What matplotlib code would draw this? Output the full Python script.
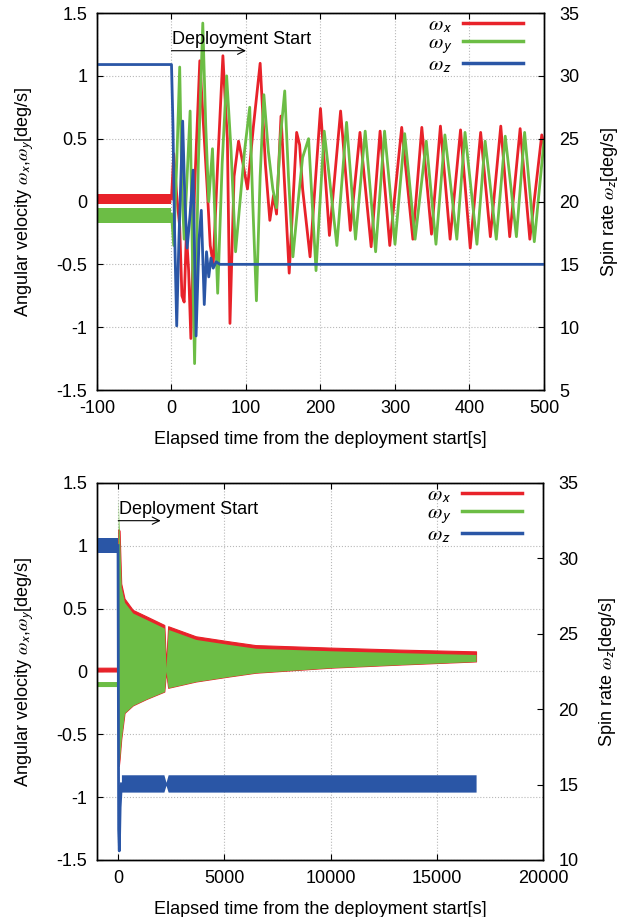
import matplotlib
matplotlib.use('Agg')
import matplotlib.pyplot as plt
from matplotlib.lines import Line2D
from matplotlib.ticker import FormatStrFormatter

plt.rcParams['font.family'] = ['Liberation Sans', 'DejaVu Sans']
plt.rcParams['font.size'] = 13
plt.rcParams['axes.unicode_minus'] = False
plt.rcParams['mathtext.fontset'] = 'stix'

RED = '#e8222a'
GREEN = '#6cbd45'
BLUE = '#2a56a6'

# ---------------- top panel data (time [s], value) ----------------
pre_t_top = [-100, 0]
pre_red_lo = [-0.02, -0.02]
pre_red_hi = [0.06, 0.06]
pre_green_lo = [-0.17, -0.17]
pre_green_hi = [-0.05, -0.05]

t_wx = [0, 3, 7, 11, 14, 17, 20, 23, 26, 31, 38, 43, 48, 52, 56, 62, 69, 73, 75, 78.5,
        84, 90, 96, 102, 110, 119, 126, 132, 137, 141, 147, 158, 168, 172, 176, 186,
        200, 212, 227, 240, 253, 268, 280, 293, 309, 324, 336, 349, 361, 374, 388,
        401, 415, 428, 442, 454, 468, 481, 497, 500]
wx = [0.02, 0.38, 0.05, -0.2, -0.75, -0.8, -0.25, -0.55, -1.09, 0.1, 1.12, 0.6, 0.1, -0.35,
      -0.5, 0.3, 1.16, 0.7, 0.5, -0.97, 0.2, 0.48, 0.3, 0.1, 0.6, 1.1, 0.3, -0.15, 0.05,
      -0.1, 0.68, -0.57, 0.55, 0.45, 0.1, -0.44, 0.74, -0.27, 0.72, -0.23, 0.55, -0.36,
      0.56, -0.35, 0.59, -0.3, 0.59, -0.26, 0.6, -0.3, 0.57, -0.37, 0.55, -0.28, 0.6,
      -0.28, 0.58, -0.3, 0.53, 0.45]

t_wy = [0, 3, 7, 11, 14, 17, 21, 25, 28, 31, 36, 42, 46, 50, 55, 62, 68, 74, 80, 86,
        92, 98, 105, 109, 114, 119, 124, 130, 136, 141, 146, 152, 157, 163, 170, 176,
        184, 194, 205, 222, 235, 247, 260, 274, 286, 300, 313, 327, 342, 355, 367, 383,
        394, 410, 421, 436, 448, 463, 474, 487, 500]
wy = [-0.1, -0.35, 0.3, 1.07, 0.1, -0.3, 0.2, 0.72, -0.4, -1.29, 0.3, 1.42, 0.6, 0.0,
      0.42, -0.73, 0.3, 1.0, 0.4, -0.4, 0.0, 0.4, 0.75, 0.0, -0.79, 0.2, 0.85, 0.4, 0.1,
      -0.05, 0.5, 0.88, 0.2, -0.44, 0.0, 0.35, 0.5, -0.55, 0.56, -0.35, 0.63, -0.3, 0.56,
      -0.4, 0.56, -0.34, 0.54, -0.3, 0.48, -0.34, 0.53, -0.3, 0.55, -0.34, 0.48, -0.3,
      0.52, -0.28, 0.55, -0.32, 0.48]

t_wz = [-100, 0, 2, 4, 7, 10, 15, 18, 21, 25, 29, 33, 37, 40, 44, 47, 50, 53, 56, 60, 65, 500]
wz = [30.9, 30.9, 26, 18, 10.1, 17, 26.4, 20, 16.3, 19, 22.5, 9.3, 17, 19.3, 11.8, 16,
      14, 15.5, 14.7, 15.2, 15.0, 15.0]

# ---------------- bottom panel data ----------------
t_b = [-1000, -20, 0, 30, 63, 140, 297, 687, 1311, 2170, 2250, 2350, 3653, 5214, 6463,
       9977, 13255, 16847]
red_hi = [0.03, 0.03, 1.13, 1.13, 1.12, 0.70, 0.58, 0.49, 0.44, 0.37, 0.05, 0.36, 0.28,
          0.24, 0.21, 0.19, 0.174, 0.16]
red_lo = [0.0, 0.0, -0.75, -0.75, -0.7, -0.54, -0.33, -0.27, -0.22, -0.16, 0.0, -0.13,
          -0.08, -0.04, -0.01, 0.03, 0.055, 0.08]
green_hi = [-0.08, -0.08, 1.38, 1.2, 1.08, 0.67, 0.55, 0.465, 0.415, 0.345, 0.03, 0.335,
            0.255, 0.215, 0.185, 0.165, 0.15, 0.135]
green_lo = [-0.12, -0.12, -0.75, -0.75, -0.7, -0.54, -0.33, -0.27, -0.22, -0.16, 0.0,
            -0.13, -0.08, -0.04, -0.01, 0.03, 0.055, 0.08]

tz_pre = [-1000, -10]
z_pre_lo = [30.35, 30.35]
z_pre_hi = [31.35, 31.35]
tz_tr = [-10, 0, 20, 50, 90, 150]
z_tr = [30.85, 25, 12, 10.6, 13.5, 15.05]
tz_post = [150, 2150, 2250, 2350, 16850]
z_post_lo = [14.5, 14.5, 14.95, 14.5, 14.5]
z_post_hi = [15.65, 15.65, 15.15, 15.65, 15.65]

# ticks / labels
top_xticks = [-100, 0, 100, 200, 300, 400, 500]
bot_xticks = [0, 5000, 10000, 15000, 20000]
left_yticks = [-1.5, -1, -0.5, 0, 0.5, 1, 1.5]
top_rticks = [5, 10, 15, 20, 25, 30, 35]
bot_rticks = [10, 15, 20, 25, 30, 35]

xlabel = 'Elapsed time from the deployment start[s]'
ylabel_l = r'Angular velocity $\omega_{\mathsf{x}}$,$\omega_{\mathsf{y}}$[deg/s]'
ylabel_r = r'Spin rate $\omega_{\mathsf{z}}$[deg/s]'
leg_labels = [r'$\omega_{\mathsf{x}}$', r'$\omega_{\mathsf{y}}$', r'$\omega_{\mathsf{z}}$']

fig = plt.figure(figsize=(6.27, 9.17), dpi=100)
ax1 = fig.add_axes([0.1547, 0.5747, 0.7129, 0.4111])
ax1r = ax1.twinx()
ax2 = fig.add_axes([0.1547, 0.0622, 0.7113, 0.4111])
ax2r = ax2.twinx()


def style(ax, axr, xlim, xticks, rlim, rticks):
    ax.set_xlim(*xlim)
    ax.set_xticks(xticks)
    ax.set_ylim(-1.5, 1.5)
    ax.set_yticks(left_yticks)
    axr.set_ylim(*rlim)
    axr.set_yticks(rticks)
    ax.yaxis.set_major_formatter(FormatStrFormatter('%g'))
    ax.xaxis.set_major_formatter(FormatStrFormatter('%g'))
    axr.yaxis.set_major_formatter(FormatStrFormatter('%g'))
    ax.tick_params(axis='x', direction='in', top=True, length=4, width=0.8, pad=7)
    ax.tick_params(axis='y', direction='in', length=4, width=0.8, pad=7)
    axr.tick_params(axis='y', direction='in', length=4, width=0.8, pad=11)
    ax.grid(True, color='#b8b8b8', linestyle=':', linewidth=0.8)
    ax.set_axisbelow(True)
    for a in (ax, axr):
        for s in a.spines.values():
            s.set_linewidth(1.0)
    ax.set_xlabel(xlabel, labelpad=10)
    ax.set_ylabel(ylabel_l)
    axr.set_ylabel(ylabel_r)
    ax.yaxis.set_label_coords(-0.137, 0.5)
    axr.yaxis.set_label_coords(1.122, 0.5)
    handles = [Line2D([], [], color=c, lw=2.5) for c in (RED, GREEN, BLUE)]
    axr.legend(handles, leg_labels, loc='upper right', bbox_to_anchor=(0.953, 0.995),
               frameon=False, markerfirst=False, handlelength=2.9, handletextpad=0.5,
               labelspacing=-0.05, borderaxespad=0, borderpad=0, fontsize=15)


# top panel
ax1.fill_between(pre_t_top, pre_red_lo, pre_red_hi, color=RED, lw=0)
ax1.fill_between(pre_t_top, pre_green_lo, pre_green_hi, color=GREEN, lw=0)
ax1.plot(t_wx, wx, color=RED, lw=2.0)
ax1.plot(t_wy, wy, color=GREEN, lw=2.0)
ax1r.plot(t_wz, wz, color=BLUE, lw=2.0)
style(ax1, ax1r, (-100, 500), top_xticks, (5, 35), top_rticks)
ax1.annotate('', xy=(100, 1.2), xytext=(0, 1.2),
             arrowprops=dict(arrowstyle='->', lw=0.8, color='black', shrinkA=0, shrinkB=0))
ax1.text(0.5, 1.29, 'Deployment Start', ha='left', va='center')

# bottom panel
ax2.fill_between(t_b, red_lo, red_hi, color=RED, lw=0.8, edgecolor=RED)
ax2.fill_between(t_b, green_lo, green_hi, color=GREEN, lw=0)
ax2r.fill_between(tz_pre, z_pre_lo, z_pre_hi, color=BLUE, lw=0)
ax2r.plot(tz_tr, z_tr, color=BLUE, lw=2.0)
ax2r.fill_between(tz_post, z_post_lo, z_post_hi, color=BLUE, lw=0)
style(ax2, ax2r, (-1000, 20000), bot_xticks, (10, 35), bot_rticks)
ax2.annotate('', xy=(2000, 1.2), xytext=(0, 1.2),
             arrowprops=dict(arrowstyle='->', lw=0.8, color='black', shrinkA=0, shrinkB=0))
ax2.text(20, 1.29, 'Deployment Start', ha='left', va='center')

fig.savefig('out.png', dpi=100)
